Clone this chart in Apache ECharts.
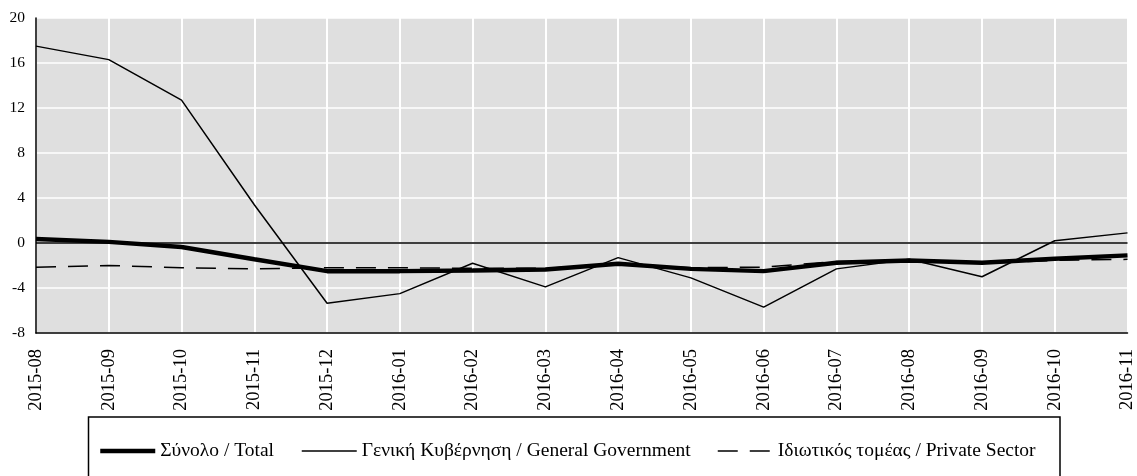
<!DOCTYPE html>
<html>
<head>
<meta charset="utf-8">
<script src="https://cdn.jsdelivr.net/npm/echarts@6/dist/echarts.min.js"></script>
<style>
  html, body { margin: 0; padding: 0; background: #fff; }
  #chart { width: 1137px; height: 476px; }
</style>
</head>
<body>
<div id="chart"></div>
<script>
// monthly values
var months = ['2015-08','2015-09','2015-10','2015-11','2015-12','2016-01','2016-02','2016-03',
              '2016-04','2016-05','2016-06','2016-07','2016-08','2016-09','2016-10','2016-11'];
var total   = [0.35, 0.1, -0.35, -1.45, -2.5, -2.5, -2.45, -2.35, -1.85, -2.3, -2.5, -1.75, -1.55, -1.75, -1.4, -1.1];
var gov     = [17.5, 16.3, 12.7, 3.4, -5.35, -4.5, -1.8, -3.9, -1.3, -3.1, -5.7, -2.3, -1.45, -3.0, 0.2, 0.9];
var priv    = [-2.15, -2.0, -2.2, -2.3, -2.2, -2.2, -2.25, -2.25, -1.9, -2.2, -2.15, -1.65, -1.55, -1.8, -1.55, -1.45];
var names   = ['Σύνολο / Total', 'Γενική Κυβέρνηση / General Government', 'Ιδιωτικός τομέας / Private Sector'];

var serif = '"Liberation Serif", "DejaVu Serif", serif';
var myChart = echarts.init(document.getElementById('chart'));

function legendAt(x, name, lineStyle){
  return {
    data: [name], left: x, top: 441, padding: 0,
    itemWidth: 55, itemHeight: 14, selectedMode: false,
    itemStyle: {opacity: 0},
    lineStyle: lineStyle,
    textStyle: {color: '#000', fontFamily: serif, fontSize: 19.5}
  };
}

option = {
  animation: false,
  graphic: [{
    type: 'rect', silent: true,
    shape: {x: 88.5, y: 417, width: 971.5, height: 80},
    style: {fill: 'none', stroke: '#000', lineWidth: 1.5}
  }],
  legend: [
    legendAt(98, names[0], {color: '#000', width: 4.5, type: 'solid'}),
    legendAt(301, names[1], {color: '#000', width: 1.5, type: 'solid'}),
    legendAt(717, names[2], {color: '#000', width: 1.5, type: [20, 12]})
  ],
  grid: {
    left: 36, right: 7, top: 18, bottom: 143,
    show: true, backgroundColor: '#dfdfdf', borderWidth: 0
  },
  xAxis: {
    type: 'category',
    boundaryGap: false,
    data: months,
    axisLine: {onZero: false, lineStyle: {color: '#000', width: 1.5}},
    axisTick: {show: false},
    axisLabel: {interval: 0, rotate: 90, margin: 16, color: '#000', fontFamily: serif, fontSize: 18.5},
    splitLine: {show: true, interval: 0, lineStyle: {color: '#fff', width: 2}}
  },
  yAxis: {
    type: 'value',
    min: -8, max: 20, interval: 4,
    axisLine: {show: true, lineStyle: {color: '#000', width: 1.5}},
    axisTick: {show: false},
    axisLabel: {margin: 11, color: '#000', fontFamily: serif, fontSize: 15.5},
    splitLine: {lineStyle: {color: '#fff', width: 1.5}}
  },
  series: [
    {
      name: names[1], type: 'line', data: gov, symbol: 'none',
      lineStyle: {color: '#000', width: 1.5},
      itemStyle: {color: '#000'},
      markLine: {
        silent: true, symbol: 'none', label: {show: false},
        lineStyle: {color: '#000', width: 1.5, type: 'solid'},
        data: [{yAxis: 0}]
      }
    },
    {
      name: names[2], type: 'line', data: priv, symbol: 'none',
      lineStyle: {color: '#000', width: 1.5, type: [20, 12]},
      itemStyle: {color: '#000'}
    },
    {
      name: names[0], type: 'line', data: total, symbol: 'none',
      lineStyle: {color: '#000', width: 4.5},
      itemStyle: {color: '#000'}
    }
  ]
};
myChart.setOption(option);
</script>
</body>
</html>
